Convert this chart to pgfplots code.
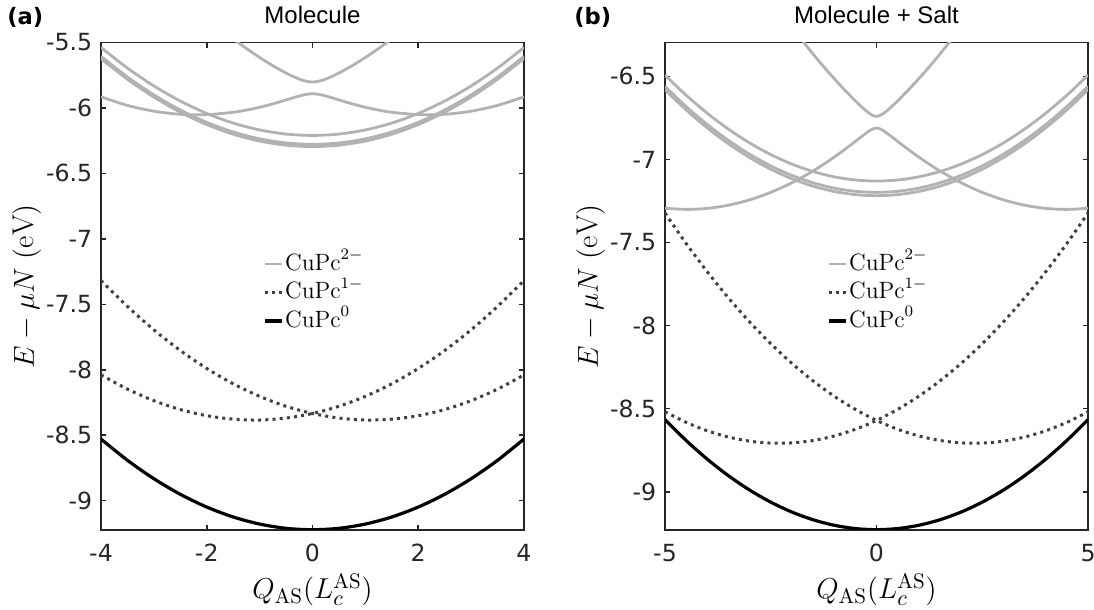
\documentclass[border=0pt]{standalone}
\usepackage{fontspec}
\usepackage{pgfplots}
\usepackage{pgfplotstable}
\pgfplotsset{compat=1.18}
\newfontfamily\dejavu{DejaVu Sans}
\newfontfamily\arial{Liberation Sans}

\definecolor{lgray}{RGB}{178,178,178}
\definecolor{dgray}{RGB}{64,64,64}
\definecolor{axgray}{RGB}{38,38,38}

% Molecule: neutral, two anion parabolas, three dianion parabolas
\pgfplotstableread{
Q    E0      A      B      C1      C2      C3
-4   -8.5292 -7.318 -8.039 -5.538  -5.606  -5.623
-3.5 -8.6916 -7.516 -8.148 -5.6955 -5.7635 -5.7805
-3   -8.8323 -7.695 -8.236 -5.832  -5.900  -5.917
-2.5 -8.9514 -7.853 -8.304 -5.9475 -6.0155 -6.0325
-2   -9.0488 -7.990 -8.351 -6.042  -6.110  -6.127
-1.5 -9.1246 -8.107 -8.377 -6.1155 -6.1835 -6.2005
-1   -9.1787 -8.203 -8.384 -6.168  -6.236  -6.253
-0.5 -9.2112 -8.279 -8.369 -6.1995 -6.2675 -6.2845
0    -9.222  -8.334 -8.334 -6.210  -6.278  -6.295
0.5  -9.2112 -8.369 -8.279 -6.1995 -6.2675 -6.2845
1    -9.1787 -8.384 -8.203 -6.168  -6.236  -6.253
1.5  -9.1246 -8.377 -8.107 -6.1155 -6.1835 -6.2005
2    -9.0488 -8.351 -7.990 -6.042  -6.110  -6.127
2.5  -8.9514 -8.304 -7.853 -5.9475 -6.0155 -6.0325
3    -8.8323 -8.236 -7.695 -5.832  -5.900  -5.917
3.5  -8.6916 -8.148 -7.516 -5.6955 -5.7635 -5.7805
4    -8.5292 -8.039 -7.318 -5.538  -5.606  -5.623
}\tabL
% Molecule: avoided crossing, lower branch
\pgfplotstableread{
Q     L
-4    -5.9153
-3.5  -5.9806
-3    -6.0249
-2.5  -6.0484
-2    -6.0510
-1.5  -6.0330
-1.25 -6.0164
-1    -5.9949
-0.75 -5.9688
-0.5  -5.9390
-0.4  -5.9265
-0.3  -5.9143
-0.2  -5.9036
-0.1  -5.8949
0     -5.8917
0.1   -5.8949
0.2   -5.9036
0.3   -5.9143
0.4   -5.9265
0.5   -5.9390
0.75  -5.9688
1     -5.9949
1.25  -6.0164
1.5   -6.0330
2     -6.0510
2.5   -6.0484
3     -6.0249
3.5   -5.9806
4     -5.9153
}\tabLlow
% Molecule: avoided crossing, upper branch
\pgfplotstableread{
Q     U
-1.5  -5.4714
-1.4  -5.5018
-1.25 -5.5458
-1    -5.6145
-0.75 -5.6774
-0.5  -5.7334
-0.4  -5.7535
-0.3  -5.7715
-0.2  -5.7868
-0.1  -5.7976
0     -5.8017
0.1   -5.7976
0.2   -5.7868
0.3   -5.7715
0.4   -5.7535
0.5   -5.7334
0.75  -5.6774
1     -5.6145
1.25  -5.5458
1.4   -5.5018
1.5   -5.4714
}\tabLup

% Molecule + Salt
\pgfplotstableread{
Q    E0      A       B       C1      C2      C3
-5   -8.5655 -7.3225 -8.5185 -6.4925 -6.5605 -6.5805
-4.5 -8.6914 -7.5058 -8.5822 -6.6136 -6.6816 -6.7016
-4   -8.804  -7.6761 -8.6329 -6.722  -6.790  -6.810
-3.5 -8.9034 -7.8334 -8.6706 -6.8176 -6.8856 -6.9056
-3   -8.9895 -7.9777 -8.6953 -6.9005 -6.9685 -6.9885
-2.5 -9.0624 -8.1090 -8.7070 -6.9706 -7.0386 -7.0586
-2   -9.122  -8.2273 -8.7057 -7.028  -7.096  -7.116
-1.5 -9.1684 -8.3326 -8.6914 -7.0726 -7.1406 -7.1606
-1   -9.2015 -8.4249 -8.6641 -7.1045 -7.1725 -7.1925
-0.5 -9.2214 -8.5042 -8.6238 -7.1236 -7.1916 -7.2116
0    -9.228  -8.5705 -8.5705 -7.130  -7.198  -7.218
0.5  -9.2214 -8.6238 -8.5042 -7.1236 -7.1916 -7.2116
1    -9.2015 -8.6641 -8.4249 -7.1045 -7.1725 -7.1925
1.5  -9.1684 -8.6914 -8.3326 -7.0726 -7.1406 -7.1606
2    -9.122  -8.7057 -8.2273 -7.028  -7.096  -7.116
2.5  -9.0624 -8.7070 -8.1090 -6.9706 -7.0386 -7.0586
3    -8.9895 -8.6953 -7.9777 -6.9005 -6.9685 -6.9885
3.5  -8.9034 -8.6706 -7.8334 -6.8176 -6.8856 -6.9056
4    -8.804  -8.6329 -7.6761 -6.722  -6.790  -6.810
4.5  -8.6914 -8.5822 -7.5058 -6.6136 -6.6816 -6.7016
5    -8.5655 -8.5185 -7.3225 -6.4925 -6.5605 -6.5805
}\tabR
\pgfplotstableread{
Q     L
-5    -7.2937
-4.5  -7.3005
-4    -7.2944
-3.5  -7.2752
-3    -7.2431
-2.5  -7.1980
-2    -7.1401
-1.5  -7.0693
-1.25 -7.0291
-1    -6.9857
-0.75 -6.9398
-0.5  -6.8912
-0.4  -6.8714
-0.3  -6.8518
-0.2  -6.8331
-0.1  -6.8176
0     -6.8108
0.1   -6.8176
0.2   -6.8331
0.3   -6.8518
0.4   -6.8714
0.5   -6.8912
0.75  -6.9398
1     -6.9857
1.25  -7.0291
1.5   -7.0693
2     -7.1401
2.5   -7.1980
3     -7.2431
3.5   -7.2752
4     -7.2944
4.5   -7.3005
5     -7.2937
}\tabRlow
\pgfplotstableread{
Q     U
-1.75 -6.2861
-1.5  -6.3653
-1.25 -6.4413
-1    -6.5137
-0.75 -6.5826
-0.5  -6.6474
-0.4  -6.6719
-0.3  -6.6952
-0.2  -6.7164
-0.1  -6.7335
0     -6.7408
0.1   -6.7335
0.2   -6.7164
0.3   -6.6952
0.4   -6.6719
0.5   -6.6474
0.75  -6.5826
1     -6.5137
1.25  -6.4413
1.5   -6.3653
1.75  -6.2861
}\tabRup

\pgfplotsset{
  panel/.style={
    scale only axis, width=211.5pt, height=243.75pt,
    anchor=south west,
    axis line style={axgray, line width=0.8pt},
    tick style={axgray, line width=0.8pt},
    major tick length=2.6pt,
    tick align=inside,
    ticklabel style={font=\dejavu\fontsize{11.8}{13}\selectfont, text=axgray},
    yticklabel style={inner sep=0pt, xshift=-4.2pt},
    xticklabel style={inner sep=0pt, yshift=-6.8pt},
    xlabel={$Q_{\mathrm{AS}}(L_c^{\mathrm{AS}})$},
    ylabel={$E-\mu N\ (\mathrm{eV})$},
    label style={font=\fontsize{15}{18}\selectfont},
    xlabel style={at={(axis description cs:0.5,-0.088)}, anchor=north, inner sep=0pt},
    ylabel style={at={(axis description cs:-0.176,0.5)}, anchor=center, inner sep=0pt},
    legend style={draw=none, fill=none, at={(0.383,0.571)}, anchor=north west,
      inner sep=0pt, row sep=2.25pt, column sep=0pt,
      nodes={inner xsep=0.6pt, inner ysep=0pt, text height=9pt, text depth=3pt},
      font=\fontsize{11.8}{13}\selectfont},
    legend cell align=left,
    legend image code/.code={\draw[#1] (0pt,0pt) -- (8.7pt,0pt);},
  },
  g2/.style={lgray, line width=1.4pt, smooth},
  g1/.style={dgray, line width=1.5pt, dash pattern=on 1.5pt off 2.1pt, smooth},
  g0/.style={black, line width=1.6pt, smooth},
}

\begin{document}
\begin{tikzpicture}
\useasboundingbox (0,0) rectangle (547pt,305pt);

\begin{axis}[panel, name=ax1, at={(50.5pt,40pt)},
  xmin=-4, xmax=4, ymin=-9.224, ymax=-5.5,
  xtick={-4,-2,0,2,4}, xticklabels={-4,-2,0,2,4},
  ytick={-9,-8.5,-8,-7.5,-7,-6.5,-6,-5.5},
  yticklabels={-9,-8.5,-8,-7.5,-7,-6.5,-6,-5.5}]
\addplot[g2] table[x=Q, y=C1] {\tabL};
\addlegendentry{$\mathrm{CuPc}^{2-}$}
\addplot[g2, forget plot] table[x=Q, y=C2] {\tabL};
\addplot[g2, forget plot] table[x=Q, y=C3] {\tabL};
\addplot[g2, forget plot] table[x=Q, y=L] {\tabLlow};
\addplot[g2, forget plot] table[x=Q, y=U] {\tabLup};
\addplot[g1] table[x=Q, y=A] {\tabL};
\addlegendentry{$\mathrm{CuPc}^{1-}$}
\addplot[g1, forget plot] table[x=Q, y=B] {\tabL};
\addplot[g0] table[x=Q, y=E0] {\tabL};
\addlegendentry{$\mathrm{CuPc}^{0}$}
\end{axis}

\begin{axis}[panel, name=ax2, at={(332.5pt,40pt)},
  xmin=-5, xmax=5, ymin=-9.23, ymax=-6.296,
  xtick={-5,0,5}, xticklabels={-5,0,5},
  ytick={-9,-8.5,-8,-7.5,-7,-6.5},
  yticklabels={-9,-8.5,-8,-7.5,-7,-6.5}]
\addplot[g2] table[x=Q, y=C1] {\tabR};
\addlegendentry{$\mathrm{CuPc}^{2-}$}
\addplot[g2, forget plot] table[x=Q, y=C2] {\tabR};
\addplot[g2, forget plot] table[x=Q, y=C3] {\tabR};
\addplot[g2, forget plot] table[x=Q, y=L] {\tabRlow};
\addplot[g2, forget plot] table[x=Q, y=U] {\tabRup};
\addplot[g1] table[x=Q, y=A] {\tabR};
\addlegendentry{$\mathrm{CuPc}^{1-}$}
\addplot[g1, forget plot] table[x=Q, y=B] {\tabR};
\addplot[g0] table[x=Q, y=E0] {\tabR};
\addlegendentry{$\mathrm{CuPc}^{0}$}
\end{axis}

\node[anchor=base, inner sep=0pt, font=\arial\fontsize{12}{14}\selectfont] at ([yshift=9.6pt]ax1.north) {Molecule};
\node[anchor=base, inner sep=0pt, font=\arial\fontsize{12}{14}\selectfont] at ([yshift=9.6pt]ax2.north) {Molecule + Salt};
\node[anchor=base west, inner sep=0pt, font=\dejavu\bfseries\fontsize{11.3}{13}\selectfont] at (3.5pt,292.5pt) {(a)};
\node[anchor=base west, inner sep=0pt, font=\dejavu\bfseries\fontsize{11.3}{13}\selectfont] at (287pt,292.5pt) {(b)};
\end{tikzpicture}
\end{document}
